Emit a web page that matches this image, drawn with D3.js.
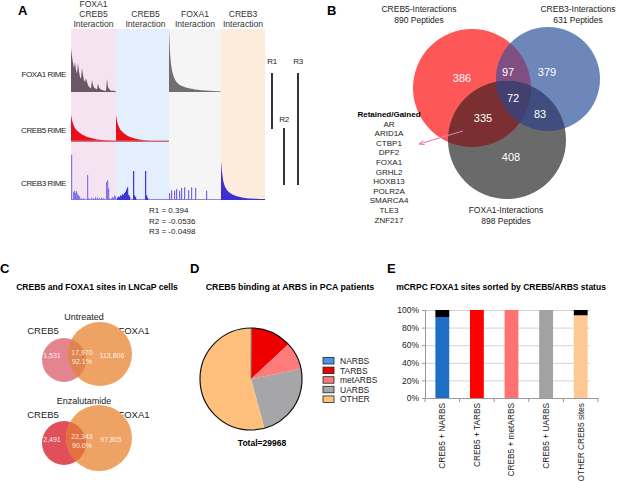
<!DOCTYPE html>
<html>
<head>
<meta charset="utf-8">
<script src="https://cdn.jsdelivr.net/npm/d3@7"></script>
<style>
  body { margin: 0; background: #fff; }
  svg { display: block; font-family: "Liberation Sans", Arial, sans-serif; }
</style>
</head>
<body>
<script>
// ---------- data ----------
// Panel A: peptide profiles (percent of row height), groups of ranked peptides
const aHeaders = [["FOXA1", "CREB5", "Interaction"], ["CREB5", "Interaction"], ["FOXA1", "Interaction"], ["CREB3", "Interaction"]];
const aGroupSizes = [45, 53, 52, 44];
const aRows = ["FOXA1 RIME", "CREB5 RIME", "CREB3 RIME"];
const aCorr = ["R1 = 0.394", "R2 = -0.0536", "R3 = -0.0498"];

const foxa1Shared = [70,56,46,38,48,35,29,46,32,24,21,38,27,19,16,22,16,11,8,7,6,19,11,7,6,5,4,14,7,5,4,3,3,2,2,2,21,8,5,3,2,2,2,2,1];
const foxa1Only = [100,62,44,34,28,23,20,17,15,13.5,12,11,10,9.4,8.8,8.2,7.7,7.2,6.8,6.4,6,5.6,5.3,5,4.7,4.4,4.1,3.9,3.7,3.5,3.3,3.1,2.9,2.8,2.6,2.5,2.4,2.3,2.2,2.1,2,1.9,1.8,1.7,1.6,1.5,1.4,1.3,1.2,1.1,1,0.9];
const creb5Shared = [54,44,37,32,28,25,23,21,19.5,18,16.5,15,14,13,12,11,10.3,9.6,9,8.4,7.8,7.3,6.8,6.4,6,5.6,5.2,4.9,4.6,4.3,4,3.8,3.6,3.4,3.2,3,2.9,2.8,2.7,2.6,2.5,2.4,2.3,2.2,2.1];
const creb5Only = [54,42,35,30,26,23,21,19,17.5,16,14.5,13,12,11,10.2,9.5,8.8,8.2,7.6,7,6.5,6,5.6,5.2,4.8,4.4,4,3.7,3.4,3.1,2.8,2.6,2.4,2.2,2,2,1.8,1.8,1.6,1.6,1.5,1.5,1.4,1.4,1.3,1.3,1.2,1.2,1.1,1.1,1,1,1];
const creb3Only = [66,48,35,28,23,20,17,15,13.5,12,11,10,9,8.3,7.6,7,6.4,5.9,5.4,5,4.6,4.3,4,3.7,3.4,3.2,3,2.8,2.7,2.6,2.5,2.4,2.3,2.2,2.1,2,2,1.9,1.9,1.8,1.8,1.7,1.7,1.6];
// sparse CREB3 hits: [rank within group, percent]
const creb3InShared = [[0,78],[2,14],[3,16],[4,12],[5,15],[6,10],[7,8],[8,6],[10,3],[12,3],[16,43],[17,3],[20,4],[22,3],[24,5],[26,4],[28,3],[30,4],[32,3],[35,31],[36,34],[37,20],[38,3],[40,3],[41,5],[42,4],[43,8],[44,6]];
const creb3InCreb5 = [[1,4],[2,6],[3,5],[4,8],[5,7],[6,10],[7,9],[8,12],[9,14],[10,18],[11,22],[12,9],[13,6],[17,50],[18,8],[19,5],[29,50],[30,8],[31,4]];
const creb3InFoxa1 = [[0,12],[2,17],[5,16],[7,19],[10,16],[12,21],[15,22],[19,17],[22,22],[26,21],[37,16]];

// Panel B: Venn of interacting peptides
const bSets = ["CREB5-Interactions", "CREB3-Interactions", "FOXA1-Interactions"];
const bTotals = [890, 631, 898];
const bRegions = ["386", "97", "379", "72", "335", "83", "408"];
const retainedGained = ["AR", "ARID1A", "CTBP1", "DPF2", "FOXA1", "GRHL2", "HOXB13", "POLR2A", "SMARCA4", "TLE3", "ZNF217"];

// Panel C: CREB5 / FOXA1 sites
const cConditions = ["Untreated", "Enzalutamide"];
const cCreb5Only = [1531, 2491];
const cShared = [17970, 22343];
const cFoxa1Only = [113806, 97805];

// Panel D: CREB5 binding at ARBS
const dClasses = ["NARBS", "TARBS", "metARBS", "UARBS", "OTHER"];
const dCounts = [40, 3880, 2600, 7200, 16248];

// Panel E: mCRPC FOXA1 sites
const eCategories = ["CREB5 + NARBS", "CREB5 + TARBS", "CREB5 + metARBS", "CREB5 + UARBS", "OTHER CREB5 sites"];
const eMain = [92, 100, 100, 100, 94];
const eRest = [8, 0, 0, 0, 6];
const eTicks = [0, 20, 40, 60, 80, 100];

// ---------- drawing ----------
const svg = d3.select("body").append("svg")
    .attr("width", 617)
    .attr("height", 482);

const letters = [["A", 18, 15], ["B", 327, 15], ["C", 0, 273], ["D", 190, 273], ["E", 387, 273]];
svg.selectAll(".letter").data(letters).enter().append("text")
    .attr("x", d => d[1]).attr("y", d => d[2])
    .attr("font-size", 13).attr("font-weight", "bold")
    .text(d => d[0]);

// ===== Panel A =====
const gA = svg.append("g");
const aStarts = [0, ...d3.cumsum(aGroupSizes)];
const xA = d3.scaleLinear().domain([0, d3.sum(aGroupSizes)]).range([71, 265]);
const rowTop = [29, 92, 142], rowBottom = [92, 142, 200];
const yA = aRows.map((r, i) => d3.scaleLinear().domain([0, 100]).range([rowBottom[i], rowTop[i]]));
const bandColors = ["#f5e3f2", "#e3effc", "#f5f5f5", "#fdebdc"];

gA.selectAll(".band").data(aGroupSizes).enter().append("rect")
    .attr("x", (d, i) => xA(aStarts[i]))
    .attr("width", (d, i) => xA(aStarts[i + 1]) - xA(aStarts[i]))
    .attr("y", 29).attr("height", 171)
    .attr("fill", (d, i) => bandColors[i]);

aHeaders.forEach((lines, i) => {
    const cx = (xA(aStarts[i]) + xA(aStarts[i + 1])) / 2 + (i === 1 ? 3 : 0);
    const t = gA.append("text").attr("text-anchor", "middle").attr("font-size", 8.6).attr("fill", "#333");
    lines.forEach((l, j) => {
        t.append("tspan").attr("x", cx).attr("y", 26.5 - (lines.length - 1 - j) * 9.7).text(l);
    });
});

gA.selectAll(".rowlab").data(aRows).enter().append("text")
    .attr("x", 66).attr("y", (d, i) => [77, 133, 186][i])
    .attr("text-anchor", "end").attr("font-size", 8).attr("letter-spacing", -0.4)
    .attr("fill", "#222").text(d => d);

const profiles = [
    {row: 0, group: 0, values: foxa1Shared, color: "#6a5866"},
    {row: 0, group: 2, values: foxa1Only, color: "#6f6f6f"},
    {row: 1, group: 0, values: creb5Shared, color: "#e8101a"},
    {row: 1, group: 1, values: creb5Only, color: "#e8101a"},
    {row: 2, group: 3, values: creb3Only, color: "#3d2fd2"}
];
profiles.forEach(p => {
    const y = yA[p.row];
    const area = d3.area()
        .x((d, i) => xA(aStarts[p.group] + i))
        .y0(y(0))
        .y1(d => y(d));
    gA.append("path").attr("d", area(p.values.concat([p.values[p.values.length - 1]]))).attr("fill", p.color);
});

// pink floor line under the CREB5 profiles
gA.append("line")
    .attr("x1", xA(aStarts[0])).attr("x2", xA(aStarts[2]))
    .attr("y1", yA[1](0) - 0.8).attr("y2", yA[1](0) - 0.8)
    .attr("stroke", "#d46a78").attr("stroke-width", 1.4);

const spikes = [
    {group: 0, data: creb3InShared, color: "#8275e4"},
    {group: 1, data: creb3InCreb5, color: "#3b36d6"},
    {group: 2, data: creb3InFoxa1, color: "#7468e0"}
];
gA.append("line")
    .attr("x1", xA(aStarts[0])).attr("x2", xA(aStarts[3]))
    .attr("y1", yA[2](0) - 0.5).attr("y2", yA[2](0) - 0.5)
    .attr("stroke", "#8f86e6").attr("stroke-width", 1);
spikes.forEach(s => {
    gA.selectAll(null).data(s.data).enter().append("rect")
        .attr("x", d => xA(aStarts[s.group] + d[0]))
        .attr("width", 1.2)
        .attr("y", d => yA[2](d[1]))
        .attr("height", d => yA[2](0) - yA[2](d[1]))
        .attr("fill", s.color);
});

// correlation bars
const rBars = [["R1", 272, 64, 73, 129], ["R2", 284, 122, 128, 185], ["R3", 298, 64, 73, 185]];
rBars.forEach(r => {
    gA.append("text").attr("x", r[1]).attr("y", r[2]).attr("text-anchor", "middle")
        .attr("font-size", 8).attr("letter-spacing", -0.4).attr("fill", "#222").text(r[0]);
    gA.append("line").attr("x1", r[1]).attr("x2", r[1]).attr("y1", r[3]).attr("y2", r[4])
        .attr("stroke", "#000").attr("stroke-width", 1.6);
});
gA.selectAll(".corr").data(aCorr).enter().append("text")
    .attr("x", 149).attr("y", (d, i) => 213 + i * 10.5)
    .attr("font-size", 8).attr("fill", "#222").text(d => d);

// ===== Panel B =====
const gB = svg.append("g");
const defs = svg.append("defs");
const bCircles = [
    {cx: 472, cy: 88, r: 59, fill: "#fe5757"},
    {cx: 548, cy: 79, r: 52, fill: "#6d87ba"},
    {cx: 507, cy: 140, r: 59, fill: "#6a6a6a"}
];
bCircles.forEach((c, i) => {
    defs.append("clipPath").attr("id", "bclip" + i)
        .append("circle").attr("cx", c.cx).attr("cy", c.cy).attr("r", c.r);
    gB.append("circle").attr("cx", c.cx).attr("cy", c.cy).attr("r", c.r).attr("fill", c.fill);
});
const bPairs = [[0, 1, "#7e4f80"], [0, 2, "#7b2f31"], [1, 2, "#3f4e7f"]];
bPairs.forEach(p => {
    const c = bCircles[p[1]];
    gB.append("g").attr("clip-path", `url(#bclip${p[0]})`)
        .append("circle").attr("cx", c.cx).attr("cy", c.cy).attr("r", c.r).attr("fill", p[2]);
});
const c2 = bCircles[2];
gB.append("g").attr("clip-path", "url(#bclip0)")
    .append("g").attr("clip-path", "url(#bclip1)")
    .append("circle").attr("cx", c2.cx).attr("cy", c2.cy).attr("r", c2.r).attr("fill", "#433f70");

const bRegionPos = [[462, 78], [508, 72], [547, 72], [513, 98], [483, 118], [540, 114], [511, 157]];
gB.selectAll(".reg").data(bRegions).enter().append("text")
    .attr("x", (d, i) => bRegionPos[i][0]).attr("y", (d, i) => bRegionPos[i][1] + 4)
    .attr("text-anchor", "middle").attr("font-size", 11).attr("fill", "#fff").text(d => d);

const bLabelPos = [[419, 12], [578, 12], [506, 213]];
bSets.forEach((s, i) => {
    gB.append("text").attr("x", bLabelPos[i][0]).attr("y", bLabelPos[i][1])
        .attr("text-anchor", "middle").attr("font-size", 8.5).attr("fill", "#222").text(s);
    gB.append("text").attr("x", bLabelPos[i][0]).attr("y", bLabelPos[i][1] + 11)
        .attr("text-anchor", "middle").attr("font-size", 8.5).attr("fill", "#222").text(`${bTotals[i]} Peptides`);
});

gB.append("text").attr("x", 389).attr("y", 117).attr("text-anchor", "middle")
    .attr("font-size", 8).attr("font-weight", "bold").text("Retained/Gained");
gB.selectAll(".gene").data(retainedGained).enter().append("text")
    .attr("x", 389).attr("y", (d, i) => 126.5 + i * 9.6)
    .attr("text-anchor", "middle").attr("font-size", 8).attr("fill", "#222").text(d => d);

defs.append("marker").attr("id", "arrowPink").attr("viewBox", "0 0 10 10")
    .attr("refX", 9).attr("refY", 5).attr("markerWidth", 5).attr("markerHeight", 5)
    .attr("orient", "auto")
    .append("path").attr("d", "M0,1 L9,5 L0,9").attr("fill", "none").attr("stroke", "#e37ab8").attr("stroke-width", 1.5);
gB.append("line").attr("x1", 463).attr("y1", 131).attr("x2", 419).attr("y2", 144)
    .attr("stroke", "#e37ab8").attr("stroke-width", 1.2).attr("marker-end", "url(#arrowPink)");

// ===== Panel C =====
const gC = svg.append("g");
gC.append("text").attr("x", 97).attr("y", 290).attr("text-anchor", "middle")
    .attr("font-size", 8.6).attr("font-weight", "bold").text("CREB5 and FOXA1 sites in LNCaP cells");
const cLayout = [
    {y0: 0, small: {cx: 64, cy: 360, r: 22}, big: {cx: 100, cy: 354, r: 32}, smallFill: "#e4848f", overlap: "#e0834f"},
    {y0: 84, small: {cx: 64, cy: 443, r: 22}, big: {cx: 99, cy: 438, r: 33}, smallFill: "#e0505a", overlap: "#e5703f"}
];
const pct = d3.format(".1%");
const num = d3.format(",");
cConditions.forEach((cond, i) => {
    const L = cLayout[i];
    gC.append("text").attr("x", 84).attr("y", 320 + L.y0).attr("text-anchor", "middle")
        .attr("font-size", 9).attr("fill", "#222").text(cond);
    gC.append("text").attr("x", 43).attr("y", 334 + L.y0).attr("text-anchor", "middle")
        .attr("font-size", 9.5).attr("fill", "#222").text("CREB5");
    gC.append("text").attr("x", 134).attr("y", 334 + L.y0).attr("text-anchor", "middle")
        .attr("font-size", 9.5).attr("fill", "#222").text("FOXA1");
    defs.append("clipPath").attr("id", "cclip" + i)
        .append("circle").attr("cx", L.small.cx).attr("cy", L.small.cy).attr("r", L.small.r);
    gC.append("circle").attr("cx", L.small.cx).attr("cy", L.small.cy).attr("r", L.small.r).attr("fill", L.smallFill);
    gC.append("circle").attr("cx", L.big.cx).attr("cy", L.big.cy).attr("r", L.big.r).attr("fill", "#eea263");
    gC.append("g").attr("clip-path", `url(#cclip${i})`)
        .append("circle").attr("cx", L.big.cx).attr("cy", L.big.cy).attr("r", L.big.r).attr("fill", L.overlap);
    const share = cShared[i] / (cShared[i] + cCreb5Only[i]);
    const txt = [
        [L.small.cx - 12, L.big.cy + 4, num(cCreb5Only[i])],
        [L.small.cx + 18, L.big.cy + 1, num(cShared[i])],
        [L.small.cx + 18, L.big.cy + 10, pct(share)],
        [L.big.cx + 12, L.big.cy + 4, num(cFoxa1Only[i])]
    ];
    gC.selectAll(null).data(txt).enter().append("text")
        .attr("x", d => d[0]).attr("y", d => d[1]).attr("text-anchor", "middle")
        .attr("font-size", 7).attr("fill", "#fff").attr("fill-opacity", 0.9).text(d => d[2]);
});

// ===== Panel D =====
const gD = svg.append("g");
gD.append("text").attr("x", 290).attr("y", 290).attr("text-anchor", "middle")
    .attr("font-size", 8.8).attr("font-weight", "bold").text("CREB5 binding at ARBS in PCA patients");
const dColor = d3.scaleOrdinal().domain(dClasses).range(["#4d94e8", "#ee0000", "#ff7b7b", "#a6a6a8", "#ffc07e"]);
const pie = d3.pie().sort(null).value(d => d.v);
const arcs = pie(dClasses.map((c, i) => ({c, v: dCounts[i]})));
const arc = d3.arc().innerRadius(0).outerRadius(51);
const pieG = gD.append("g").attr("transform", "translate(251,379)");
pieG.selectAll("path").data(arcs).enter().append("path")
    .attr("d", arc).attr("fill", d => dColor(d.data.c));
pieG.append("line").attr("x1", 0).attr("y1", 0).attr("x2", 0).attr("y2", -51)
    .attr("stroke", "#777").attr("stroke-width", 0.8);
pieG.append("circle").attr("r", 51).attr("fill", "none").attr("stroke", "#111").attr("stroke-width", 1.2);

const legD = gD.selectAll(".legd").data(dClasses).enter().append("g")
    .attr("transform", (d, i) => `translate(323,${357.5 + i * 9.6})`);
legD.append("rect").attr("width", 11).attr("height", 6.5)
    .attr("fill", d => dColor(d)).attr("stroke", "#222").attr("stroke-width", 0.8);
legD.append("text").attr("x", 17).attr("y", 6.5).attr("font-size", 8.5).attr("fill", "#222").text(d => d);

gD.append("text").attr("x", 262).attr("y", 446).attr("text-anchor", "middle")
    .attr("font-size", 8.5).attr("font-weight", "bold").text(`Total=${d3.sum(dCounts)}`);

// ===== Panel E =====
const gE = svg.append("g");
gE.append("text").attr("x", 501).attr("y", 290).attr("text-anchor", "middle")
    .attr("font-size", 8.5).attr("font-weight", "bold").text("mCRPC FOXA1 sites sorted by CREB5/ARBS status");
const xE = d3.scaleBand().domain(eCategories).range([425, 598]).paddingInner(0.6).paddingOuter(0.3);
const yE = d3.scaleLinear().domain([0, 100]).range([398, 310]);
const eColors = ["#1f6ec6", "#ff0000", "#ff7272", "#a2a2a2", "#ffc892"];

gE.append("g").attr("transform", "translate(425,0)")
    .call(d3.axisLeft(yE).tickValues(eTicks).tickSize(-165).tickFormat(""))
    .call(g => g.select(".domain").remove())
    .call(g => g.selectAll("line").attr("stroke", "#d4d4d4"));
gE.append("g").attr("transform", "translate(425,0)")
    .call(d3.axisLeft(yE).tickValues(eTicks).tickSize(3).tickFormat(d => d + "%"))
    .call(g => g.select(".domain").attr("stroke", "#999"))
    .call(g => g.selectAll("line").attr("stroke", "#999"))
    .call(g => g.selectAll("text").attr("font-size", 8.5).attr("fill", "#222")
        .attr("font-family", "Liberation Sans, Arial, sans-serif"));

gE.selectAll(".barMain").data(eCategories).enter().append("rect")
    .attr("x", d => xE(d)).attr("width", xE.bandwidth())
    .attr("y", (d, i) => yE(eMain[i])).attr("height", (d, i) => yE(0) - yE(eMain[i]))
    .attr("fill", (d, i) => eColors[i]);
gE.selectAll(".barRest").data(eCategories).enter().append("rect")
    .attr("x", d => xE(d)).attr("width", xE.bandwidth())
    .attr("y", (d, i) => yE(eMain[i] + eRest[i])).attr("height", (d, i) => yE(eMain[i]) - yE(eMain[i] + eRest[i]))
    .attr("fill", "#000");

const xAxisE = gE.append("g").attr("transform", "translate(0,398)")
    .call(d3.axisBottom(xE).tickSize(0).tickSizeOuter(0))
    .call(g => g.select(".domain").attr("stroke", "#999"));
xAxisE.selectAll("text")
    .attr("font-size", 8.3).attr("fill", "#222")
    .attr("font-family", "Liberation Sans, Arial, sans-serif")
    .attr("text-anchor", "end")
    .attr("transform", "rotate(-90)")
    .attr("x", -5).attr("y", 0).attr("dy", "0.35em");
const eBounds = d3.range(eCategories.length + 1).map(i => 425 + i * (173 / eCategories.length));
gE.selectAll(".btick").data(eBounds).enter().append("line")
    .attr("x1", d => d).attr("x2", d => d).attr("y1", 398).attr("y2", 402)
    .attr("stroke", "#999");
</script>
</body>
</html>
